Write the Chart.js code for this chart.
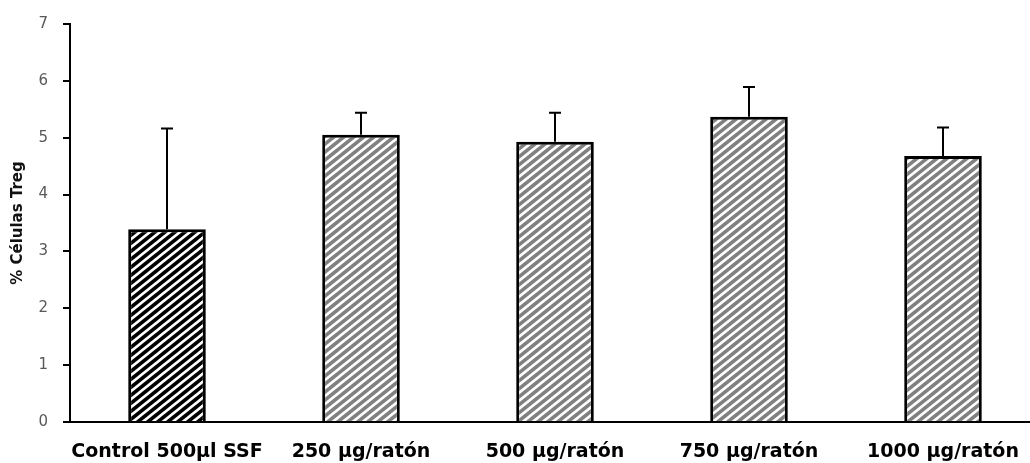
<!DOCTYPE html>
<html>
<head>
<meta charset="utf-8">
<script src="https://cdn.jsdelivr.net/npm/chart.js@4/dist/chart.umd.min.js"></script>
<style>
  html, body { margin: 0; padding: 0; background: #fff; overflow: hidden; }
  #wrap { width: 1030px; height: 463px; overflow: hidden; }
</style>
</head>
<body>
<div id="wrap"><canvas id="chart" width="1040" height="463"></canvas></div>
<script>
// data
const categories = ["Control 500µl SSF", "250 µg/ratón", "500 µg/ratón", "750 µg/ratón", "1000 µg/ratón"];
const means = [3.39, 5.05, 4.93, 5.37, 4.68];
const errors = [1.77, 0.39, 0.51, 0.52, 0.50];
const yTicks = [0, 1, 2, 3, 4, 5, 6, 7];

const canvas = document.getElementById("chart");
const ctx = canvas.getContext("2d");

// diagonal hatch tile, lines going up to the right
function hatch(bg) {
  const w = 10, h = 8;
  const tile = document.createElement("canvas");
  tile.width = w; tile.height = h;
  const t = tile.getContext("2d");
  t.fillStyle = bg;
  t.fillRect(0, 0, w, h);
  t.strokeStyle = "#fff";
  t.lineWidth = 2.6;
  t.beginPath();
  t.moveTo(-w, 2 * h); t.lineTo(2 * w, -h);
  t.moveTo(-2 * w, 2 * h); t.lineTo(w, -h);
  t.moveTo(0, 2 * h); t.lineTo(3 * w, -h);
  t.stroke();
  return ctx.createPattern(tile, "repeat");
}

const fills = [hatch("#000"), hatch("#808080"), hatch("#808080"), hatch("#808080"), hatch("#808080")];

const errorBars = {
  id: "errorBars",
  afterDatasetsDraw(chart) {
    const meta = chart.getDatasetMeta(0);
    const y = chart.scales.y;
    const c = chart.ctx;
    c.save();
    c.strokeStyle = "#000";
    c.lineWidth = 2;
    meta.data.forEach((bar, i) => {
      const top = y.getPixelForValue(means[i] + errors[i]);
      const base = y.getPixelForValue(means[i]);
      c.beginPath();
      c.moveTo(bar.x, base);
      c.lineTo(bar.x, top);
      c.moveTo(bar.x - 6, top);
      c.lineTo(bar.x + 6, top);
      c.stroke();
    });
    c.restore();
  }
};

new Chart(ctx, {
  type: "bar",
  data: {
    labels: categories,
    datasets: [{
      data: means,
      backgroundColor: fills,
      borderColor: "#000",
      borderWidth: 3,
      categoryPercentage: 1,
      barPercentage: 0.4
    }]
  },
  options: {
    responsive: false,
    animation: false,
    layout: { padding: { top: 22, left: 8, right: 0, bottom: 0 } },
    plugins: { legend: { display: false }, tooltip: { enabled: false } },
    scales: {
      x: {
        grid: { display: true, drawOnChartArea: false, drawTicks: false },
        border: { display: true, color: "#000", width: 2 },
        ticks: {
          color: "#000", padding: 19, maxRotation: 0, minRotation: 0, autoSkip: false,
          font: { family: "DejaVu Sans", size: 19, weight: "bold" }
        },
        afterFit(scale) { scale.height = 41; scale.paddingLeft = 0; scale.paddingRight = 0; }
      },
      y: {
        min: 0,
        max: 7,
        afterBuildTicks(scale) { scale.ticks = yTicks.map(v => ({ value: v })); },
        grid: { display: true, drawOnChartArea: false, drawTicks: true, tickLength: 7, color: "#000", lineWidth: 2 },
        border: { display: true, color: "#000", width: 2 },
        ticks: { color: "#595959", padding: 15, font: { family: "DejaVu Sans", size: 15 } },
        title: { display: true, text: "% Células Treg", color: "#111", padding: { top: 1, bottom: 4 }, font: { family: "DejaVu Sans", size: 15, weight: "bold" } },
        afterFit(scale) { scale.width = 62; }
      }
    }
  },
  plugins: [errorBars]
});
</script>
</body>
</html>
